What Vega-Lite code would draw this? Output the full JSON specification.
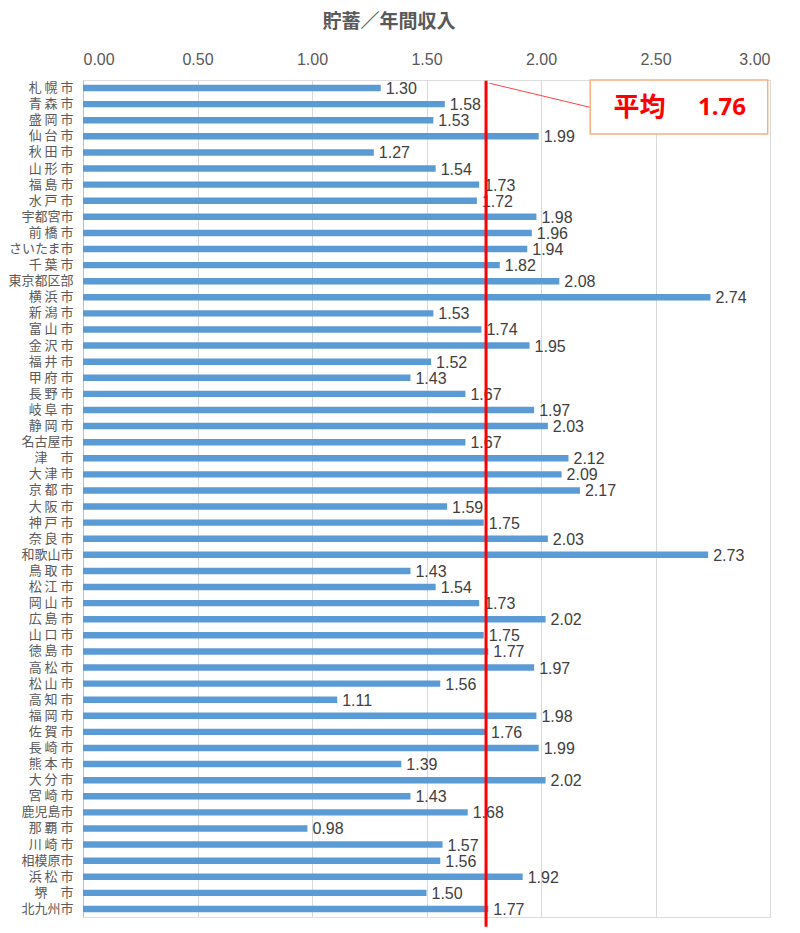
{
  "$schema": "https://vega.github.io/schema/vega-lite/v6.json",
  "width": 687,
  "height": 837,
  "autosize": {"type": "none"},
  "padding": {"left": 83, "top": 80, "right": 30, "bottom": 16},
  "background": "white",
  "title": {"text": "貯蓄／年間収入", "font": "Noto Sans CJK JP", "fontSize": 19, "fontWeight": "bold", "color": "#595959", "anchor": "middle", "frame": "bounds", "offset": 19},
  "datasets": {
    "cities": [
      {"city": "札 幌 市", "ratio": 1.30}, {"city": "青 森 市", "ratio": 1.58}, {"city": "盛 岡 市", "ratio": 1.53},
      {"city": "仙 台 市", "ratio": 1.99}, {"city": "秋 田 市", "ratio": 1.27}, {"city": "山 形 市", "ratio": 1.54},
      {"city": "福 島 市", "ratio": 1.73}, {"city": "水 戸 市", "ratio": 1.72}, {"city": "宇都宮市", "ratio": 1.98},
      {"city": "前 橋 市", "ratio": 1.96}, {"city": "さいたま市", "ratio": 1.94}, {"city": "千 葉 市", "ratio": 1.82},
      {"city": "東京都区部", "ratio": 2.08}, {"city": "横 浜 市", "ratio": 2.74}, {"city": "新 潟 市", "ratio": 1.53},
      {"city": "富 山 市", "ratio": 1.74}, {"city": "金 沢 市", "ratio": 1.95}, {"city": "福 井 市", "ratio": 1.52},
      {"city": "甲 府 市", "ratio": 1.43}, {"city": "長 野 市", "ratio": 1.67}, {"city": "岐 阜 市", "ratio": 1.97},
      {"city": "静 岡 市", "ratio": 2.03}, {"city": "名古屋市", "ratio": 1.67}, {"city": "津\u3000市", "ratio": 2.12},
      {"city": "大 津 市", "ratio": 2.09}, {"city": "京 都 市", "ratio": 2.17}, {"city": "大 阪 市", "ratio": 1.59},
      {"city": "神 戸 市", "ratio": 1.75}, {"city": "奈 良 市", "ratio": 2.03}, {"city": "和歌山市", "ratio": 2.73},
      {"city": "鳥 取 市", "ratio": 1.43}, {"city": "松 江 市", "ratio": 1.54}, {"city": "岡 山 市", "ratio": 1.73},
      {"city": "広 島 市", "ratio": 2.02}, {"city": "山 口 市", "ratio": 1.75}, {"city": "徳 島 市", "ratio": 1.77},
      {"city": "高 松 市", "ratio": 1.97}, {"city": "松 山 市", "ratio": 1.56}, {"city": "高 知 市", "ratio": 1.11},
      {"city": "福 岡 市", "ratio": 1.98}, {"city": "佐 賀 市", "ratio": 1.76}, {"city": "長 崎 市", "ratio": 1.99},
      {"city": "熊 本 市", "ratio": 1.39}, {"city": "大 分 市", "ratio": 2.02}, {"city": "宮 崎 市", "ratio": 1.43},
      {"city": "鹿児島市", "ratio": 1.68}, {"city": "那 覇 市", "ratio": 0.98}, {"city": "川 崎 市", "ratio": 1.57},
      {"city": "相模原市", "ratio": 1.56}, {"city": "浜 松 市", "ratio": 1.92}, {"city": "堺\u3000市", "ratio": 1.50},
      {"city": "北九州市", "ratio": 1.77}
    ],
    "mean": [{"label": "平均", "value": 1.76}]
  },
  "layer": [
    {
      "data": {"name": "cities"},
      "encoding": {
        "y": {"field": "city", "type": "nominal", "sort": null,
              "scale": {"paddingInner": 0.6, "paddingOuter": 0.3},
              "axis": {"title": null, "labelFont": "Noto Sans CJK JP", "labelFontSize": 13, "labelColor": "#595959", "labelPadding": 10, "ticks": false, "domainColor": "#bfbfbf", "grid": false}},
        "x": {"field": "ratio", "type": "quantitative", "scale": {"domain": [0, 3], "nice": false},
              "axis": {"orient": "top", "title": null, "values": [0, 0.5, 1, 1.5, 2, 2.5, 3], "format": ".2f", "labelFont": "Liberation Sans", "labelFontSize": 16, "labelColor": "#595959", "labelPadding": 13, "ticks": false, "domain": false, "grid": true, "gridColor": "#d9d9d9"}}
      },
      "layer": [
        {"mark": {"type": "bar", "color": "#5B9BD5"}},
        {"mark": {"type": "text", "align": "left", "baseline": "middle", "dx": 5, "dy": 1, "font": "Liberation Sans", "fontSize": 16, "color": "#404040"},
         "encoding": {"text": {"field": "ratio", "type": "quantitative", "format": ".2f"}}}
      ]
    },
    {
      "data": {"name": "mean"},
      "layer": [
        {"mark": {"type": "rule", "color": "#FF0000", "strokeWidth": 3},
         "encoding": {"x": {"field": "value", "type": "quantitative"},
                      "y": {"datum": 0.05, "type": "quantitative", "scale": {"domain": [0, 52], "reverse": true, "nice": false}, "axis": null},
                      "y2": {"datum": 52.6}}},
        {"mark": {"type": "rule", "color": "#FF3030", "strokeWidth": 0.9},
         "encoding": {"x": {"datum": 1.775}, "x2": {"datum": 2.215},
                      "y": {"datum": 0.2, "type": "quantitative"}, "y2": {"datum": 1.7}}},
        {"mark": {"type": "rect", "fill": "white", "stroke": "#F4B183", "strokeWidth": 1.5},
         "encoding": {"x": {"datum": 2.215}, "x2": {"datum": 2.99},
                      "y": {"datum": 0, "type": "quantitative"}, "y2": {"datum": 3.35}}},
        {"mark": {"type": "text", "align": "center", "baseline": "middle", "font": "Noto Sans CJK JP", "fontSize": 26, "fontWeight": "bold", "color": "#FF0000"},
         "encoding": {"x": {"datum": 2.43}, "y": {"datum": 1.72, "type": "quantitative"}, "text": {"field": "label"}}},
        {"mark": {"type": "text", "align": "center", "baseline": "middle", "font": "Noto Sans", "fontSize": 24, "fontWeight": "bold", "color": "#FF0000"},
         "encoding": {"x": {"datum": 2.79}, "y": {"datum": 1.72, "type": "quantitative"}, "text": {"field": "value", "type": "quantitative", "format": ".2f"}}}
      ]
    }
  ],
  "resolve": {"scale": {"y": "independent"}, "axis": {"y": "independent"}}
}
